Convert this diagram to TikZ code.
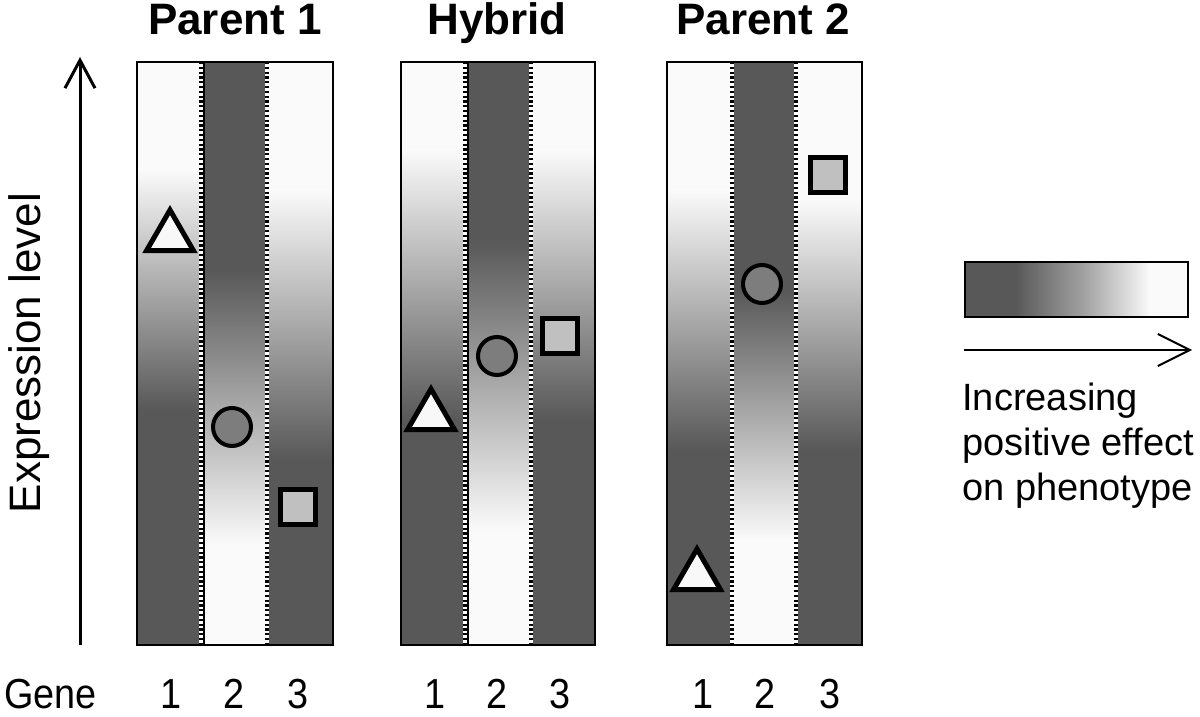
\documentclass[tikz,border=0pt]{standalone}
\usepackage{fontspec}
\setmainfont{Liberation Sans}
\newfontfamily\genefont[FakeStretch=0.9]{Liberation Sans}
\usetikzlibrary{shapes.geometric,arrows.meta}
\definecolor{dk}{RGB}{88,88,88}
\definecolor{wh}{RGB}{250,250,250}
\definecolor{cfill}{RGB}{125,125,125}
\definecolor{sfill}{RGB}{192,192,192}
\definecolor{tfill}{RGB}{248,248,248}
% x1, x2, ya, yb, top colour, bottom colour
\newcommand{\gradcol}[6]{%
  \fill[#5] (#1,62) rectangle (#2,#3+1);
  \fill[#6] (#1,#4-1) rectangle (#2,645);
  \shade[top color=#5, bottom color=#6] (#1,#3) rectangle (#2,#4);
}
\newcommand{\dotdiv}[1]{%
  \draw[white, line width=1.8pt] (#1,62) -- (#1,645);
  \draw[black, line width=1.8pt, dash pattern=on 1.1pt off 1.3pt] (#1,62) -- (#1,645);
}
\tikzset{
  panel/.style={draw, line width=1.3pt, inner sep=0pt, minimum width=#1, minimum height=291.5pt},
  titletext/.style={font=\bfseries\fontsize{22}{26}\selectfont, anchor=base, inner sep=0pt},
  labeltext/.style={font=\genefont\fontsize{21}{25}\selectfont, inner sep=0pt, anchor=base},
  tri/.style={regular polygon, regular polygon sides=3, draw, line width=2.5pt, fill=tfill, minimum size=27pt, inner sep=0pt},
  circ/.style={circle, draw, line width=2pt, fill=cfill, minimum size=19pt, inner sep=0pt},
  sq/.style={rectangle, draw, line width=2.5pt, fill=sfill, minimum size=17.5pt, inner sep=0pt},
}
\begin{document}
\begin{tikzpicture}[x=0.5pt,y=-0.5pt]
\useasboundingbox (0,0) rectangle (1200,717);

% ---- Parent 1 ----
\gradcol{137}{203}{170}{410}{wh}{dk}
\gradcol{203}{268}{270}{545}{dk}{wh}
\gradcol{268}{333}{190}{460}{wh}{dk}
\dotdiv{201}
\draw[black, line width=0.6pt] (204,62) -- (204,645);
\dotdiv{267}
\node[panel=98pt] (p1) at (235,353.5) {};

% ---- Hybrid ----
\gradcol{401}{466}{150}{420}{wh}{dk}
\gradcol{466}{531}{240}{530}{dk}{wh}
\gradcol{531}{595}{150}{420}{wh}{dk}
\dotdiv{465}
\draw[black, line width=0.6pt] (468,62) -- (468,645);
\dotdiv{531}
\node[panel=97pt] (p2) at (498,353.5) {};

% ---- Parent 2 ----
\gradcol{667}{733}{190}{450}{wh}{dk}
\gradcol{733}{797}{290}{540}{dk}{wh}
\gradcol{797}{862}{200}{450}{wh}{dk}
\dotdiv{732}
\dotdiv{796}
\node[panel=97.5pt] (p3) at (764.5,353.5) {};

% ---- markers ----
\node[tri] (tri1) at (170,237) {};
\node[circ] (circ1) at (232,427) {};
\node[sq] (sq1) at (298,507) {};
\node[tri] (tri2) at (431,416) {};
\node[circ] (circ2) at (497,356) {};
\node[sq] (sq2) at (560,336) {};
\node[tri] (tri3) at (697,576) {};
\node[circ] (circ3) at (762,284) {};
\node[sq] (sq3) at (828,175) {};

% ---- titles ----
\node[titletext] (t1) at (235,35) {Parent 1};
\node[titletext] (t2) at (497,35) {Hybrid};
\node[titletext] (t3) at (763,35) {Parent 2};

% ---- expression axis ----
\coordinate (ea) at (80,645);
\coordinate (eb) at (80,57);
\draw[line width=1.5pt, -{Straight Barb[length=14pt,width=15pt,line width=1.5pt]}] (ea) -- (eb);
\node[rotate=90, font=\fontsize{22}{26}\selectfont] (el) at (29,353) {Expression level};

% ---- gene row ----
\node[labeltext, anchor=base west] (gene) at (4,708) {Gene};
\node[labeltext] (g11) at (171,708) {1};
\node[labeltext] (g12) at (234,708) {2};
\node[labeltext] (g13) at (298,708) {3};
\node[labeltext] (g21) at (435,708) {1};
\node[labeltext] (g22) at (497,708) {2};
\node[labeltext] (g23) at (560,708) {3};
\node[labeltext] (g31) at (703,708) {1};
\node[labeltext] (g32) at (765,708) {2};
\node[labeltext] (g33) at (830,708) {3};

% ---- legend ----
\fill[dk] (965,262) rectangle (1016,317);
\fill[wh] (1149,262) rectangle (1188,317);
\shade[left color=dk, right color=wh, middle color={rgb,255:red,160;green,160;blue,160}] (1015,262) rectangle (1150,317);
\node[draw, line width=1pt, inner sep=0pt, minimum width=111.5pt, minimum height=27.5pt] (lbar) at (1076.5,289.5) {};
\coordinate (la) at (964,350);
\coordinate (lb) at (1192,350);
\draw[line width=1pt, -{Straight Barb[length=16pt,width=16pt,line width=1pt]}] (la) -- (lb);
\node[anchor=north west, inner sep=0pt, align=left, font=\fontsize{19}{22.5}\selectfont] (ltext) at (962,383) {Increasing\\positive effect\\on phenotype};
\end{tikzpicture}
\end{document}
